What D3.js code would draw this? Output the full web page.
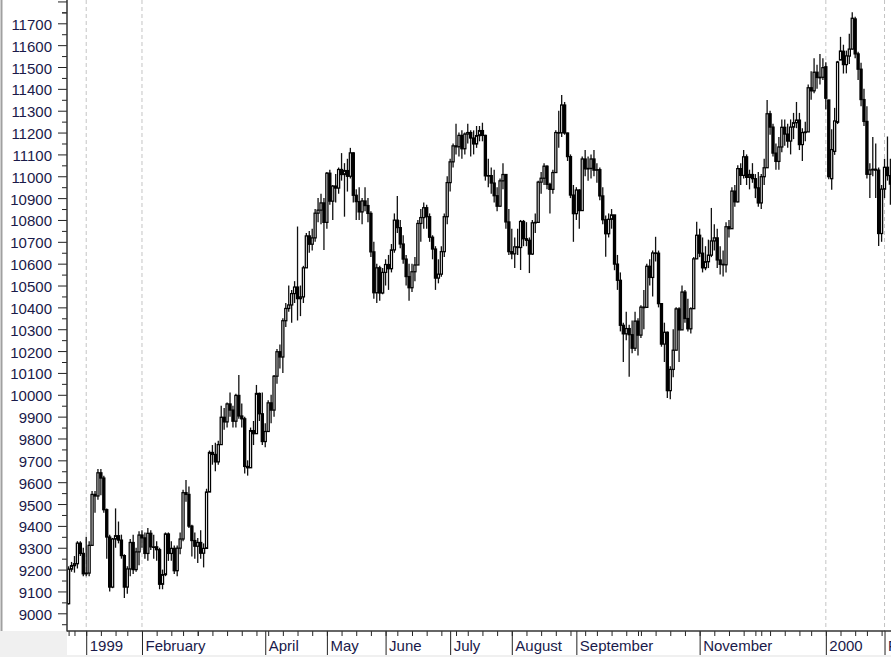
<!DOCTYPE html>
<html><head><meta charset="utf-8">
<script src="https://cdn.jsdelivr.net/npm/d3@7"></script>
<style>
html,body{margin:0;padding:0;background:#fff;overflow:hidden}
svg{display:block}
</style></head><body>
<svg id="c" width="891" height="657"></svg>
<script>
// ---------- calendar (trading days) ----------
const firstDay = "1998-12-23", lastDay = "2000-02-03";
const holidays = ["1998-12-25","1999-01-01","1999-01-18","1999-02-15","1999-04-02","1999-05-31",
  "1999-07-05","1999-09-06","1999-11-25","1999-12-24","2000-01-17"];

// ---------- daily OHLC (Dec 23 1998 .. Feb 3 2000) ----------
const open = [
 9044,9202,9218,9227,9321,9274,
 9181,9184,9311,9544,9537,9643,9619,9474,9349,9120,9340,9355,9335,9264,9120,9203,9324,9200,9281,
 9358,9345,9274,9366,9304,9304,9291,9133,9177,9363,9274,9297,9195,9298,9340,9552,9544,9399,9333,
 9307,9324,9275,9297,9555,9736,9727,9693,9772,9897,9876,9958,9930,9879,9997,9903,9890,9672,9666,9836,9822,10006,9913,
 9786,9832,9963,9930,10085,10197,10173,10339,10395,10411,10463,10493,10440,10448,10581,10727,10689,10718,10831,10845,10878,
 10789,11014,10886,10955,10946,11031,11008,11026,11000,11107,10913,10884,10837,10887,10866,10830,10654,10467,10581,10466,
 10560,10596,10577,10663,10799,10765,10690,10621,10541,10490,10563,10594,10784,10811,10856,10815,10721,10667,10534,10552,10655,10815,
 10971,11066,11139,11135,11187,11126,11193,11200,11175,11148,11186,11209,11187,11002,11003,10969,10911,10863,10979,11008,10791,
 10655,10645,10677,10674,10793,10714,10707,10644,10787,10789,10973,10991,11046,10963,10940,11017,11200,11199,11326,11198,11090,10914,
 10829,10937,10843,11079,11034,11036,11079,11028,11030,10910,10801,10737,10803,10823,10598,10524,10318,10279,10303,10275,10213,
 10337,10273,10401,10400,10588,10537,10649,10648,10417,10232,10286,10019,10116,10204,10393,10297,10470,10349,10302,10394,10622,
 10730,10648,10581,10609,10639,10704,10718,10617,10597,10595,10769,10760,10932,10883,11035,11004,11089,10995,11008,10989,10947,
 10878,10998,11039,11286,11225,11106,11068,11134,11224,11193,11161,11225,11245,11257,11145,11200,11203,11405,11391,11476,11452,11453,
 11501,11349,10989,11114,11247,11532,11572,11511,11550,11582,11720,11560,11490,11351,11251,11009,11029,11032,11028,10738,
 10941,11041,11003];
const high = [
 9215,9235,9262,9330,9330,9300,
 9350,9330,9560,9560,9660,9660,9630,9480,9360,9345,9480,9420,9360,9270,9215,9340,9360,9300,9375,
 9380,9370,9390,9380,9360,9330,9300,9200,9370,9370,9330,9310,9310,9370,9565,9610,9580,9405,9370,
 9345,9380,9320,9570,9745,9770,9780,9790,9950,9940,9965,10010,9950,10005,10090,9960,9900,9700,9850,9880,10045,10010,10010,
 9870,9975,10000,10090,10210,10230,10350,10420,10500,10480,10520,10770,10500,10590,10740,10750,10760,10850,10900,10920,10900,
 11020,11030,10960,11010,11040,11106,11060,11080,11130,11110,10940,10950,10900,10950,10900,10840,10700,10600,10590,10580,
 10620,10640,10690,10830,10910,10800,10730,10640,10600,10600,10630,10800,10850,10880,10870,10830,10730,10680,10620,10680,10830,11000,
 11080,11150,11240,11200,11210,11200,11240,11210,11210,11230,11230,11245,11190,11080,11040,11030,10950,10990,11060,11010,10850,
 10760,10720,10760,10800,10800,10790,10720,10800,10830,10980,11020,11060,11050,10970,11030,11210,11300,11372,11340,11200,11100,10960,
 10950,10940,11090,11120,11090,11100,11120,11060,11040,10950,10820,10830,10850,10823,10640,10560,10330,10380,10320,10340,10380,
 10350,10410,10480,10600,10620,10660,10723,10660,10420,10330,10290,10130,10300,10400,10400,10500,10480,10440,10400,10630,10792,
 10760,10720,10680,10710,10855,10780,10760,10680,10660,10790,10800,10950,10960,11050,11060,11120,11100,11030,11060,11010,11020,
 11010,11080,11349,11300,11240,11150,11180,11260,11260,11240,11260,11290,11340,11290,11220,11250,11420,11480,11540,11510,11560,11540,
 11522,11350,11215,11313,11528,11638,11602,11575,11652,11750,11730,11570,11520,11400,11320,11060,11180,11150,11040,10960,
 11080,11182,11080];
const low = [
 9040,9190,9186,9205,9262,9170,
 9170,9170,9311,9460,9520,9540,9460,9250,9100,9115,9300,9320,9250,9070,9090,9170,9180,9190,9220,
 9300,9250,9240,9290,9250,9240,9110,9110,9170,9240,9240,9180,9170,9270,9330,9510,9390,9260,9250,
 9230,9250,9210,9297,9555,9680,9650,9680,9770,9840,9850,9900,9850,9850,9890,9850,9640,9630,9666,9770,9822,9880,9770,
 9760,9830,9870,9900,10050,10120,10100,10310,10380,10330,10420,10340,10360,10420,10581,10650,10660,10700,10790,10780,10663,
 10760,10870,10800,10880,10920,10980,10815,10930,10990,10880,10800,10800,10780,10840,10790,10630,10440,10420,10430,10460,
 10500,10480,10560,10650,10740,10670,10600,10500,10430,10470,10520,10594,10700,10760,10760,10700,10620,10480,10510,10540,10630,10780,
 10930,11040,11100,11090,11080,11100,11150,11090,11100,11130,11160,11160,10980,10950,10920,10880,10840,10860,10940,10760,10640,
 10620,10580,10640,10571,10680,10680,10557,10640,10740,10789,10920,10960,10940,10830,10920,11017,11130,11180,11190,11070,10900,10700,
 10800,10760,10843,11000,10980,10990,11000,10970,10890,10780,10632,10720,10760,10570,10480,10290,10150,10250,10083,10190,10200,
 10180,10260,10300,10400,10500,10450,10610,10400,10220,10150,9985,9980,10080,10204,10150,10297,10330,10290,10280,10394,10622,
 10630,10560,10570,10580,10630,10660,10580,10550,10541,10560,10720,10760,10860,10880,10960,10990,10960,10940,10970,10900,10860,
 10850,10960,11039,11190,11090,11030,11030,11110,11140,11130,11100,11170,11220,11120,11070,11160,11203,11350,11380,11400,11420,11440,
 11305,10986,10938,11098,11239,11532,11470,11471,11514,11580,11540,11440,11320,11230,10990,10900,11000,10900,10681,10700,
 10900,10980,10870];
const close = [
 9202,9218,9227,9321,9274,9181,
 9184,9311,9544,9537,9643,9619,9474,9349,9120,9340,9355,9335,9264,9120,9203,9324,9200,9281,9358,
 9345,9274,9366,9304,9304,9291,9133,9177,9363,9274,9297,9195,9298,9340,9552,9544,9399,9333,9307,
 9324,9275,9297,9555,9736,9727,9693,9772,9897,9876,9958,9930,9879,9997,9903,9890,9672,9666,9836,9822,10006,9913,9786,
 9832,9963,9930,10085,10197,10173,10339,10395,10411,10463,10493,10440,10448,10581,10727,10689,10718,10831,10845,10878,10789,
 11014,10886,10955,10946,11031,11008,11026,11000,11107,10913,10884,10837,10887,10866,10830,10654,10467,10581,10466,10560,
 10596,10577,10663,10799,10765,10690,10621,10541,10490,10563,10594,10784,10811,10856,10815,10721,10667,10534,10552,10655,10815,10971,
 11066,11139,11135,11187,11126,11193,11200,11175,11148,11186,11209,11187,11002,11003,10969,10911,10863,10979,11008,10791,10655,
 10645,10677,10674,10793,10714,10707,10644,10787,10789,10973,10991,11046,10963,10940,11017,11200,11199,11326,11198,11090,10914,10829,
 10937,10843,11079,11034,11036,11079,11028,11030,10910,10801,10737,10803,10823,10598,10524,10318,10279,10303,10275,10213,10337,
 10273,10401,10400,10588,10537,10649,10648,10417,10232,10286,10019,10116,10204,10393,10297,10470,10349,10302,10394,10622,10730,
 10648,10581,10609,10639,10704,10718,10617,10597,10595,10769,10760,10932,10883,11035,11004,11089,10995,11008,10989,10947,10878,
 10998,11039,11286,11225,11106,11068,11134,11224,11193,11161,11225,11245,11257,11145,11200,11203,11405,11391,11476,11452,11453,11497,
 11357,10998,11122,11253,11523,11573,11511,11551,11582,11723,11560,11490,11351,11251,11009,11029,11032,11028,10738,10941,
 11041,11003,10964];

// ---------- axis labels ----------
const yTickLabels = [9000,9100,9200,9300,9400,9500,9600,9700,9800,9900,10000,10100,10200,10300,
  10400,10500,10600,10700,10800,10900,11000,11100,11200,11300,11400,11500,11600,11700];
const monthLabelDates = ["1999-01","1999-02","1999-04","1999-05","1999-06","1999-07","1999-08","1999-09","1999-11","2000-01","2000-02"];
const monthLabelTexts = ["1999","February","April","May","June","July","August","September","November","2000","February"];
const dashedMonths = ["1999-01","1999-02","2000-01","2000-02"];

// ---------- build ----------
const fmt = d3.timeFormat("%Y-%m-%d");
const hol = new Set(holidays);
const dates = d3.timeDay.range(new Date(firstDay+"T00:00"), d3.timeDay.offset(new Date(lastDay+"T00:00"),1))
  .filter(d => d.getDay()!==0 && d.getDay()!==6 && !hol.has(fmt(d)));
const keys = dates.map(fmt);
const n = keys.length;
const data = keys.map((k,i)=>({k, date:dates[i], o:open[i], h:high[i], l:low[i], c:close[i]}));

const W=891, H=657, axX=67, axY=631;
const step = 2.935, x0 = 68.6;
const x = d3.scalePoint().domain(keys).range([x0, x0+step*(n-1)]);
const y = d3.scaleLinear().domain([9000,11700]).range([613.3,23.3]);

const monthFirst = new Map();
const weekFirst = [];
let prevWeek = null;
data.forEach(d=>{
  const m = d.k.slice(0,7);
  if(!monthFirst.has(m)) monthFirst.set(m, d.k);
  const w = fmt(d3.timeMonday.floor(d.date));
  if(w!==prevWeek){ weekFirst.push(d.k); prevWeek=w; }
});

const svg = d3.select("#c");
svg.append("rect").attr("width",W).attr("height",H).attr("fill","#fff");
svg.append("rect").attr("x",0).attr("y",axY).attr("width",axX).attr("height",H-axY).attr("fill","#f0f0f0");
svg.append("rect").attr("x",0).attr("y",655).attr("width",W).attr("height",2).attr("fill","#f0f0f0");
svg.append("line").attr("x1",1.5).attr("x2",1.5).attr("y1",0).attr("y2",axY).attr("stroke","#a0a0a0").attr("stroke-width",2);

svg.append("clipPath").attr("id","clip").append("rect").attr("x",axX).attr("y",0).attr("width",W-axX).attr("height",axY);
const plot = svg.append("g").attr("clip-path","url(#clip)");

plot.selectAll("line.dash").data(dashedMonths.map(m=>monthFirst.get(m))).join("line")
  .attr("class","dash").attr("x1",d=>x(d)).attr("x2",d=>x(d)).attr("y1",0).attr("y2",axY)
  .attr("stroke","#c4c4c4").attr("stroke-width",1).attr("stroke-dasharray","4,3");

// candles
const cg = plot.append("g");
cg.selectAll("line.w").data(data).join("line").attr("class","w")
  .attr("x1",d=>x(d.k)).attr("x2",d=>x(d.k))
  .attr("y1",d=>y(Math.max(d.h,d.o,d.c))).attr("y2",d=>y(Math.min(d.l,d.o,d.c)))
  .attr("stroke","#111").attr("stroke-width",1.3);
cg.selectAll("rect.b").data(data).join("rect").attr("class","b")
  .attr("x",d=>x(d.k)-1.05).attr("width",2.1)
  .attr("y",d=>y(Math.max(d.o,d.c)))
  .attr("height",d=>Math.max(0.5, y(Math.min(d.o,d.c))-y(Math.max(d.o,d.c))))
  .attr("fill",d=>d.c>=d.o?"#fff":"#000")
  .attr("stroke","#000").attr("stroke-width",1.25);

// y axis
const font = "Arial, 'Liberation Sans', sans-serif";
const yMajor = yTickLabels.concat([11800]);
const yMinor = yMajor.map(v=>v-50).concat([11750]);
const gy = svg.append("g").attr("transform",`translate(${axX},0)`);
gy.call(d3.axisLeft(y).tickValues(yMajor).tickSize(9).tickPadding(6)
   .tickFormat(d=> d<=11700 ? String(d) : ""));
gy.append("g").call(d3.axisLeft(y).tickValues(yMinor).tickSize(5).tickFormat(""));
gy.selectAll(".domain").remove();
gy.selectAll("line").attr("stroke","#222");
gy.selectAll("text").attr("font-family",font).attr("font-size",15).attr("fill","#1a1a4a").attr("dy","0.4em");

// x axis
const gx = svg.append("g").attr("transform",`translate(0,${axY})`);
gx.call(d3.axisBottom(x).tickValues(weekFirst).tickSize(5).tickFormat(""));
const unlabeled = [...monthFirst.keys()].filter(m=>!monthLabelDates.includes(m) && m!=="1998-12").map(m=>monthFirst.get(m));
gx.append("g").call(d3.axisBottom(x).tickValues(unlabeled).tickSize(5).tickFormat(""));
const labMap = new Map(monthLabelDates.map((m,i)=>[monthFirst.get(m), monthLabelTexts[i]]));
const gl = gx.append("g").call(d3.axisBottom(x).tickValues(monthLabelDates.map(m=>monthFirst.get(m))).tickSize(24).tickFormat(d=>labMap.get(d)));
gx.selectAll(".domain").remove();
gx.selectAll("line").attr("stroke","#222");
gl.selectAll("text").attr("font-family",font).attr("font-size",15).attr("fill","#1a1a4a")
  .attr("text-anchor","start").attr("x",3).attr("y",9.5).attr("dy","0.71em");

svg.append("line").attr("x1",axX).attr("x2",axX).attr("y1",0).attr("y2",axY+0.5).attr("stroke","#333").attr("stroke-width",1.5);
svg.append("line").attr("x1",axX).attr("x2",W).attr("y1",axY).attr("y2",axY).attr("stroke","#333").attr("stroke-width",1.5);
</script>
</body></html>
